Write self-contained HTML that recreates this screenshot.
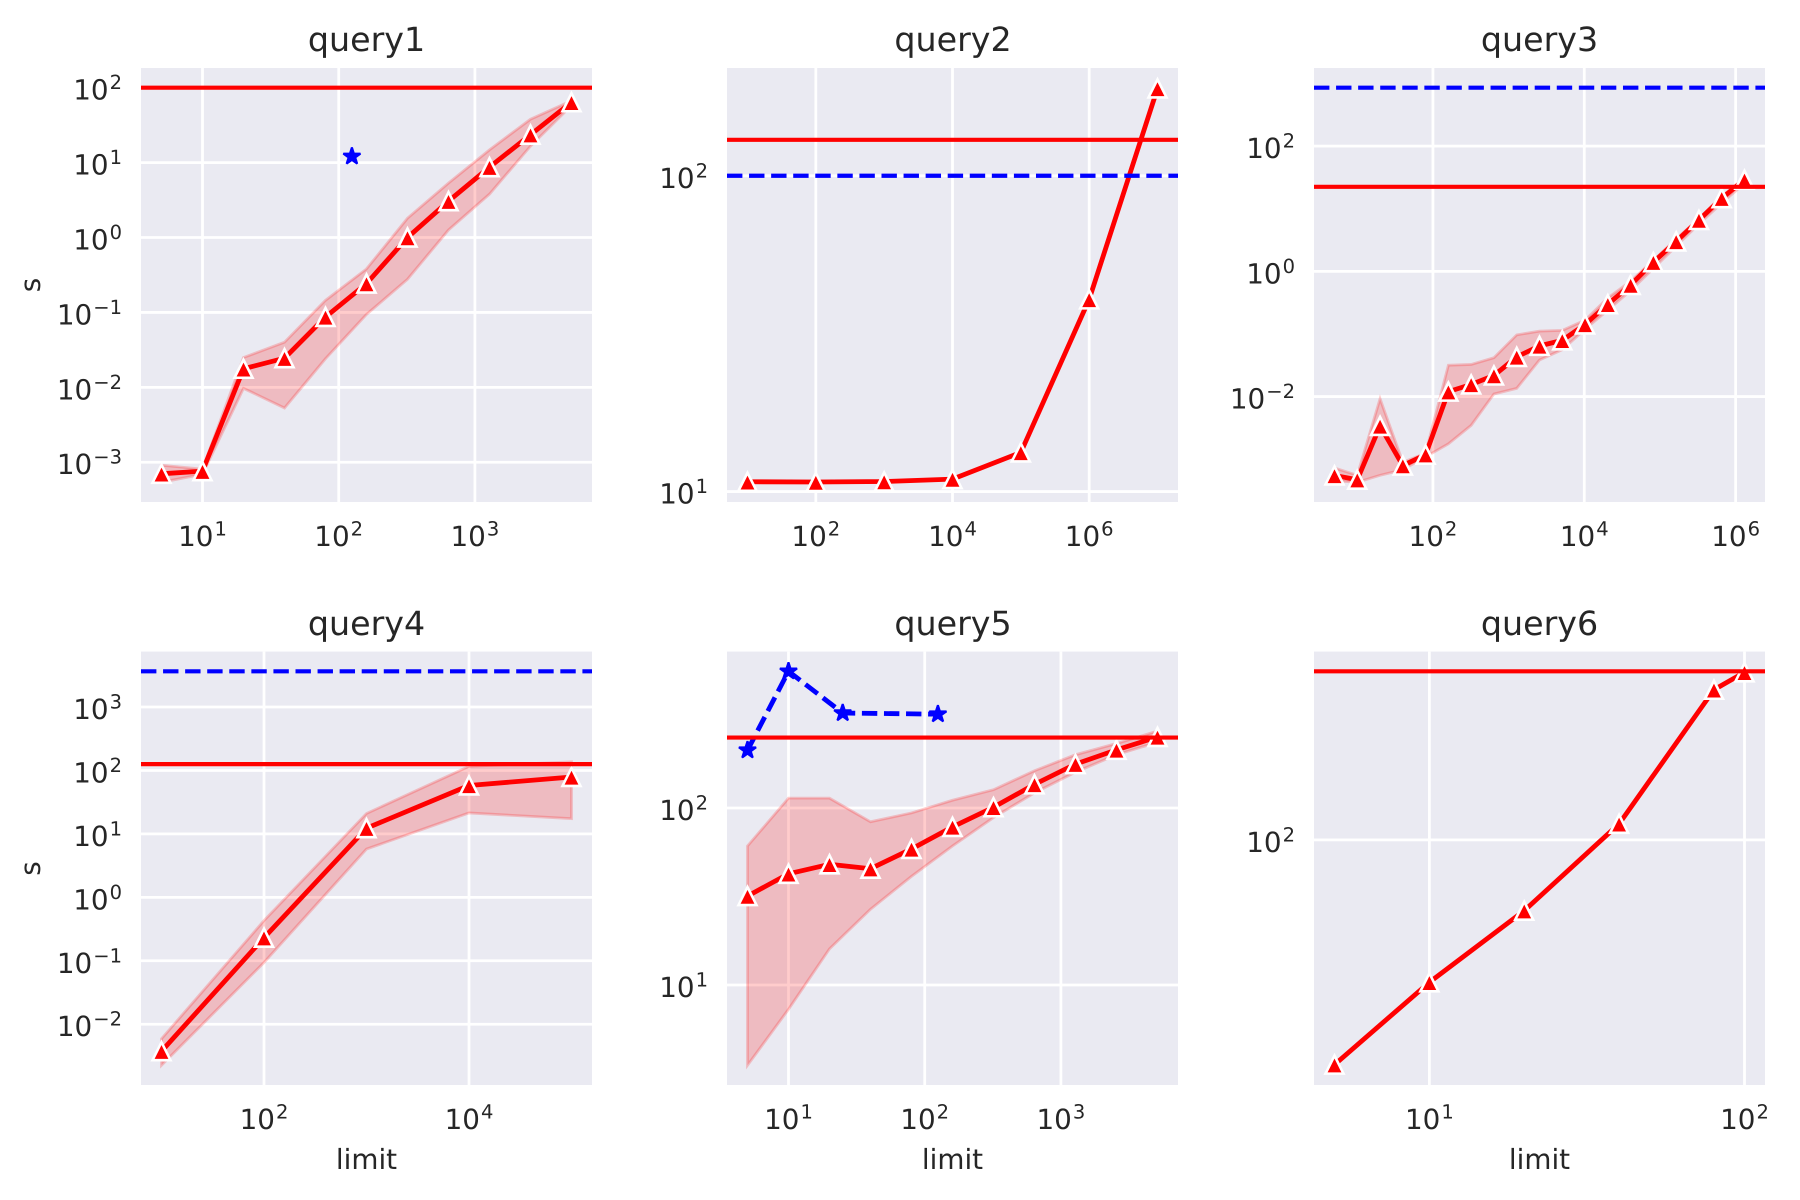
<!DOCTYPE html>
<html lang="en">
<head>
<meta charset="utf-8">
<title>Query timings by limit</title>
<style>
  html, body { margin: 0; padding: 0; background: #ffffff; }
  svg { display: block; }
  text { font-family: "DejaVu Sans", "Liberation Sans", sans-serif; fill: #262626; text-rendering: geometricPrecision; }
  .title { font-size: 33.3px; text-anchor: middle; }
  .axis-label { font-size: 27.8px; text-anchor: middle; }
  .tick { font-size: 27.8px; }
</style>
</head>
<body>
<svg id="figure" xmlns="http://www.w3.org/2000/svg" width="1800" height="1200" viewBox="0 0 1800 1200">
  <rect width="1800" height="1200" fill="#ffffff"/>

  <g id="q1"></g>
  <g id="q2"></g>
  <g id="q3"></g>
  <g id="q4"></g>
  <g id="q5"></g>
  <g id="q6"></g>

  <text class="title" x="366.5" y="51">query1</text>
  <text class="title" x="953" y="51">query2</text>
  <text class="title" x="1539.5" y="51">query3</text>
  <text class="title" x="366.5" y="635">query4</text>
  <text class="title" x="953" y="635">query5</text>
  <text class="title" x="1539.5" y="635">query6</text>

  <text class="axis-label" transform="translate(40,285) rotate(-90)">s</text>
  <text class="axis-label" transform="translate(40,868.5) rotate(-90)">s</text>
  <text class="axis-label" x="366.5" y="1169">limit</text>
  <text class="axis-label" x="952.5" y="1169">limit</text>
  <text class="axis-label" x="1539.5" y="1169">limit</text>
</svg>

<script>
// ---- query1 ----
const q1Limits = [5, 10, 20, 40, 80, 160, 320, 640, 1280, 2560, 5120];
const q1Mean = [7.0e-4, 7.6e-4, 0.0177, 0.0245, 0.087, 0.243, 1.0, 3.06, 8.7, 23.6, 64];
const q1Upper = [9.1e-4, 8.1e-4, 0.025, 0.04, 0.145, 0.381, 1.81, 5.33, 14.8, 38, 67];
const q1Lower = [5.4e-4, 6.9e-4, 0.0097, 0.0053, 0.0241, 0.094, 0.277, 1.26, 3.8, 16.6, 58];
const q1RedLevels = [100];
const q1BlueLevels = [];
const q1StarLimits = [125];
const q1StarTimes = [12.1];
const q1XTicks = [10, 100, 1000];
const q1YTicks = [100, 10, 1, 0.1, 0.01, 0.001];

// ---- query2 ----
const q2Limits = [10, 100, 1000, 10000, 100000, 1000000, 10000000];
const q2Mean = [10.74, 10.72, 10.76, 10.95, 13.3, 40.6, 189];
const q2Upper = [10.76, 10.74, 10.78, 10.97, 13.35, 40.8, 190];
const q2Lower = [10.72, 10.7, 10.74, 10.93, 13.25, 40.4, 188];
const q2RedLevels = [130];
const q2BlueLevels = [100];
const q2StarLimits = [];
const q2StarTimes = [];
const q2XTicks = [100, 10000, 1000000];
const q2YTicks = [100, 10];

// ---- query3 ----
const q3Limits = [5, 10, 20, 40, 80, 160, 320, 640, 1280, 2560, 5120, 10240, 20480, 40960, 81920, 163840, 327680, 655360, 1310720];
const q3Mean = [5.5e-4, 4.7e-4, 3.4e-3, 7.9e-4, 1.18e-3, 0.012, 0.0156, 0.0217, 0.043, 0.0645, 0.079, 0.142, 0.298, 0.605, 1.4, 3.0, 6.6, 14.7, 29];
const q3Upper = [7.26e-4, 5.53e-4, 9.23e-3, 8.91e-4, 1.25e-3, 0.0317, 0.0326, 0.0417, 0.0966, 0.111, 0.114, 0.166, 0.376, 0.693, 1.5, 3.3, 6.98, 15.8, 31.1];
const q3Lower = [4.52e-4, 4.28e-4, 5.53e-4, 6.79e-4, 1.09e-3, 1.76e-3, 3.47e-3, 0.011, 0.0135, 0.0384, 0.0561, 0.119, 0.24, 0.493, 1.11, 2.52, 5.69, 12.3, 25.4];
const q3RedLevels = [22.4];
const q3BlueLevels = [855];
const q3StarLimits = [];
const q3StarTimes = [];
const q3XTicks = [100, 10000, 1000000];
const q3YTicks = [100, 1, 0.01];

// ---- query4 ----
const q4Limits = [10, 100, 1000, 10000, 100000];
const q4Mean = [3.75e-3, 0.231, 12.3, 58, 79];
const q4Upper = [5.9e-3, 0.43, 21, 116, 137];
const q4Lower = [2.25e-3, 0.0938, 5.77, 21.4, 17.4];
const q4RedLevels = [126];
const q4BlueLevels = [3660];
const q4StarLimits = [];
const q4StarTimes = [];
const q4XTicks = [100, 10000];
const q4YTicks = [1000, 100, 10, 1, 0.1, 0.01];

// ---- query5 ----
const q5Limits = [5, 10, 20, 40, 80, 160, 320, 640, 1280, 2560, 5120];
const q5Mean = [31.8, 42.5, 48.1, 45.4, 58.7, 78.2, 101, 136, 177, 213, 252];
const q5Upper = [61, 113.7, 113.7, 83.6, 93.8, 110.6, 126.9, 162.4, 200, 231.4, 272];
const q5Lower = [3.52, 7.29, 16, 26.8, 41.1, 61, 88.3, 121.8, 159.4, 200, 235.5];
const q5RedLevels = [250];
const q5BlueLevels = [];
const q5StarLimits = [5, 10, 25, 125];
const q5StarTimes = [212, 592, 344, 339];
const q5XTicks = [10, 100, 1000];
const q5YTicks = [100, 10];

// ---- query6 ----
const q6Limits = [5, 10, 20, 40, 80, 100];
const q6Mean = [23.1, 39.5, 63, 111, 266, 298];
const q6Upper = [23.2, 39.8, 63.4, 111.5, 267, 299];
const q6Lower = [23, 39.2, 62.6, 110.5, 265, 297];
const q6RedLevels = [300];
const q6BlueLevels = [];
const q6StarLimits = [];
const q6StarTimes = [];
const q6XTicks = [10, 100];
const q6YTicks = [100];

const PANELS = [
  { id: 'q1', name: 'query1', box: [141, 68, 592, 502], limits: q1Limits, mean: q1Mean, upper: q1Upper, lower: q1Lower, red: q1RedLevels, blue: q1BlueLevels, starX: q1StarLimits, starY: q1StarTimes, xTicks: q1XTicks, yTicks: q1YTicks },
  { id: 'q2', name: 'query2', box: [727, 68, 1178, 502], limits: q2Limits, mean: q2Mean, upper: q2Upper, lower: q2Lower, red: q2RedLevels, blue: q2BlueLevels, starX: q2StarLimits, starY: q2StarTimes, xTicks: q2XTicks, yTicks: q2YTicks },
  { id: 'q3', name: 'query3', box: [1314, 68, 1765, 502], limits: q3Limits, mean: q3Mean, upper: q3Upper, lower: q3Lower, red: q3RedLevels, blue: q3BlueLevels, starX: q3StarLimits, starY: q3StarTimes, xTicks: q3XTicks, yTicks: q3YTicks },
  { id: 'q4', name: 'query4', box: [141, 651.6, 592, 1085], limits: q4Limits, mean: q4Mean, upper: q4Upper, lower: q4Lower, red: q4RedLevels, blue: q4BlueLevels, starX: q4StarLimits, starY: q4StarTimes, xTicks: q4XTicks, yTicks: q4YTicks },
  { id: 'q5', name: 'query5', box: [727, 651.6, 1178, 1085], limits: q5Limits, mean: q5Mean, upper: q5Upper, lower: q5Lower, red: q5RedLevels, blue: q5BlueLevels, starX: q5StarLimits, starY: q5StarTimes, xTicks: q5XTicks, yTicks: q5YTicks },
  { id: 'q6', name: 'query6', box: [1314, 651.6, 1765, 1085], limits: q6Limits, mean: q6Mean, upper: q6Upper, lower: q6Lower, red: q6RedLevels, blue: q6BlueLevels, starX: q6StarLimits, starY: q6StarTimes, xTicks: q6XTicks, yTicks: q6YTicks }
];

const SVG_NS = 'http://www.w3.org/2000/svg';
const LINE_W = 4.17;
const MEAN_W = 4.8;
const GRID_W = 2.78;
const MARKER_R = 9;
const MARKER_EDGE = 2.6;
const STAR_R = 9;
const DASH = '15.4 6.67';

function svgEl(tag, attrs, parent) {
  const el = document.createElementNS(SVG_NS, tag);
  for (const k in attrs) el.setAttribute(k, attrs[k]);
  parent.appendChild(el);
  return el;
}

function logDomain(values) {
  const logs = values.map(Math.log10);
  const lo = Math.min.apply(null, logs);
  const hi = Math.max.apply(null, logs);
  const pad = (hi - lo) * 0.05;
  return [lo - pad, hi + pad];
}

function logScale(domain, a, b) {
  return function (v) {
    return a + (Math.log10(v) - domain[0]) / (domain[1] - domain[0]) * (b - a);
  };
}

function pointsPath(xs, ys, sx, sy) {
  return xs.map(function (x, i) {
    return (i ? 'L' : 'M') + sx(x).toFixed(2) + ' ' + sy(ys[i]).toFixed(2);
  }).join(' ');
}

function trianglePath(cx, cy) {
  const r = MARKER_R;
  return 'M' + cx + ' ' + (cy - r) + ' L' + (cx - r) + ' ' + (cy + r) + ' L' + (cx + r) + ' ' + (cy + r) + ' Z';
}

function starPath(cx, cy) {
  let d = '';
  for (let i = 0; i < 10; i++) {
    const r = i % 2 ? STAR_R * 0.381966 : STAR_R;
    const a = -Math.PI / 2 + i * Math.PI / 5;
    d += (i ? 'L' : 'M') + (cx + r * Math.cos(a)).toFixed(2) + ' ' + (cy + r * Math.sin(a)).toFixed(2) + ' ';
  }
  return d + 'Z';
}

function addPowerLabel(parent, value, x, y, anchor) {
  const exp = Math.round(Math.log10(value));
  const t = svgEl('text', { 'class': 'tick', x: x, y: y, 'text-anchor': anchor }, parent);
  t.appendChild(document.createTextNode('10'));
  const sup = svgEl('tspan', { dy: -10.5, 'font-size': '19.5px', dx: 1 }, t);
  sup.textContent = String(exp).replace('-', '\u2212');
  return t;
}

PANELS.forEach(function (p) {
  const g = document.getElementById(p.id);
  const x0 = p.box[0], y0 = p.box[1], x1 = p.box[2], y1 = p.box[3];

  const allX = p.limits.concat(p.starX);
  const allY = p.mean.concat(p.upper, p.lower, p.red, p.blue, p.starY);
  const sx = logScale(logDomain(allX), x0, x1);
  const sy = logScale(logDomain(allY), y1, y0);

  const bg = svgEl('rect', { x: x0, y: y0, width: x1 - x0, height: y1 - y0, fill: '#EAEAF2' }, g);
  
  

  const clip = svgEl('clipPath', { id: 'clip-' + p.id }, g);
  svgEl('rect', { x: x0, y: y0, width: x1 - x0, height: y1 - y0 }, clip);

  p.xTicks.forEach(function (v) {
    const line = svgEl('line', { x1: sx(v), x2: sx(v), y1: y0, y2: y1, stroke: '#ffffff', 'stroke-width': GRID_W }, g);
    
    
    const label = addPowerLabel(g, v, sx(v), y1 + 44, 'middle');
    
    
  });

  p.yTicks.forEach(function (v) {
    const line = svgEl('line', { x1: x0, x2: x1, y1: sy(v), y2: sy(v), stroke: '#ffffff', 'stroke-width': GRID_W }, g);
    
    
    const label = addPowerLabel(g, v, x0 - 19, sy(v) + 12, 'end');
    
    
  });

  const plot = svgEl('g', { 'clip-path': 'url(#clip-' + p.id + ')' }, g);
  
  

  const revX = p.limits.slice().reverse();
  const revLower = p.lower.slice().reverse();
  const bandD = pointsPath(p.limits, p.upper, sx, sy) + ' ' +
    pointsPath(revX, revLower, sx, sy).replace(/^M/, 'L') + ' Z';
  const band = svgEl('path', { d: bandD, fill: '#ff0000', 'fill-opacity': 0.2, stroke: '#ff0000', 'stroke-opacity': 0.2, 'stroke-width': 2.78 }, plot);
  
  

  const line = svgEl('path', { d: pointsPath(p.limits, p.mean, sx, sy), fill: 'none', stroke: '#ff0000', 'stroke-width': MEAN_W, 'stroke-linejoin': 'round', 'stroke-linecap': 'butt' }, plot);
  
  

  p.limits.forEach(function (x, i) {
    const m = svgEl('path', { d: trianglePath(sx(x), sy(p.mean[i])), fill: '#ff0000', stroke: '#ffffff', 'stroke-width': MARKER_EDGE, 'stroke-linejoin': 'miter' }, plot);
    
    
  });

  if (p.starX.length > 1) {
    const starLine = svgEl('path', { d: pointsPath(p.starX, p.starY, sx, sy), fill: 'none', stroke: '#0000ff', 'stroke-width': MEAN_W, 'stroke-dasharray': DASH }, plot);
    
    
  }
  p.starX.forEach(function (x, i) {
    const s = svgEl('path', { d: starPath(sx(x), sy(p.starY[i])), fill: '#0000ff', stroke: '#0000ff', 'stroke-width': 2.08, 'stroke-linejoin': 'bevel' }, plot);
    
    
  });

  p.blue.forEach(function (v) {
    const h = svgEl('line', { x1: x0, x2: x1, y1: sy(v), y2: sy(v), stroke: '#0000ff', 'stroke-width': LINE_W, 'stroke-dasharray': DASH }, plot);
    
    
  });
  p.red.forEach(function (v) {
    const h = svgEl('line', { x1: x0, x2: x1, y1: sy(v), y2: sy(v), stroke: '#ff0000', 'stroke-width': LINE_W }, plot);
    
    
  });
});
</script>
</body>
</html>
